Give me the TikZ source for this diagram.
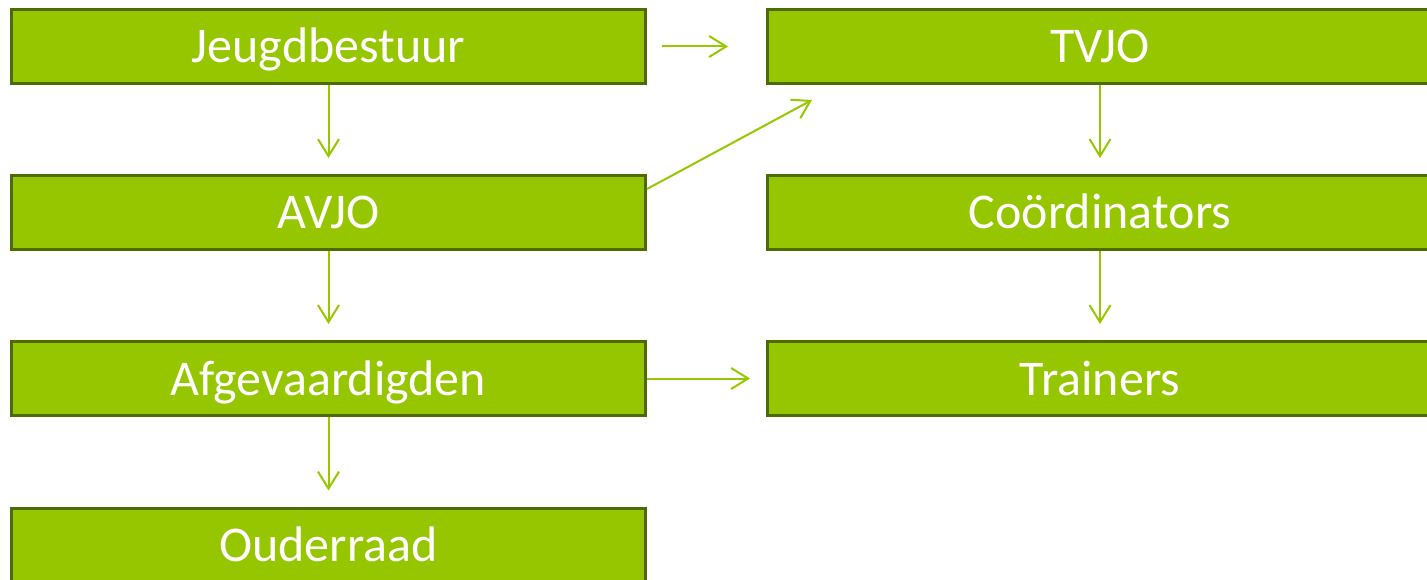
\documentclass[tikz,border=0pt]{standalone}
\usepackage{fontspec}
\setmainfont{Carlito}
\usetikzlibrary{arrows.meta}
\definecolor{boxfill}{HTML}{95C600}
\definecolor{boxline}{HTML}{4E6B00}
\definecolor{arrowc}{HTML}{95C800}
\tikzset{
  orgbox/.style={draw=boxline, line width=3pt, fill=boxfill, text=white,
    minimum height=74pt, inner sep=0pt, text height=50pt, text depth=17pt,
    font=\fontsize{50}{54}\selectfont},
  leftbox/.style={orgbox, minimum width=634pt},
  rightbox/.style={orgbox, minimum width=665pt},
  link/.style={draw=arrowc, line width=2pt,
    -{Straight Barb[length=17pt,width=21pt,line width=2pt]}}
}
\begin{document}
\begin{tikzpicture}[x=1pt,y=-1pt]
\useasboundingbox (0,0) rectangle (1427,580);
\clip (0,0) rectangle (1427,580);
\node[leftbox] (jb) at (328.5,46.5) {Jeugdbestuur};
\node[leftbox] (avjo) at (328.5,212.5) {AVJO};
\node[leftbox] (afg) at (328.5,378.5) {Afgevaardigden};
\node[leftbox] (oud) at (328.5,545) {Ouderraad};
\node[rightbox] (tvjo) at (1100,46.5) {TVJO};
\node[rightbox] (coo) at (1100,212.5) {Coördinators};
\node[rightbox] (tr) at (1100,378.5) {Trainers};
\coordinate (avjostart) at (647,189);
\coordinate (tvjotip) at (812,100);
\draw[link, shorten <=15pt, shorten >=38pt] (jb.east) -- (tvjo.west);
\draw[link, shorten >=16pt] (jb.south) -- (avjo.north);
\draw[link, shorten >=16pt] (avjo.south) -- (afg.north);
\draw[link, shorten >=16pt] (afg.south) -- (oud.north);
\draw[link, shorten >=16pt] (tvjo.south) -- (coo.north);
\draw[link, shorten >=16pt] (coo.south) -- (tr.north);
\draw[link, shorten >=16pt] (afg.east) -- (tr.west);
\draw[link] (avjostart) -- (tvjotip);
\end{tikzpicture}
\end{document}
